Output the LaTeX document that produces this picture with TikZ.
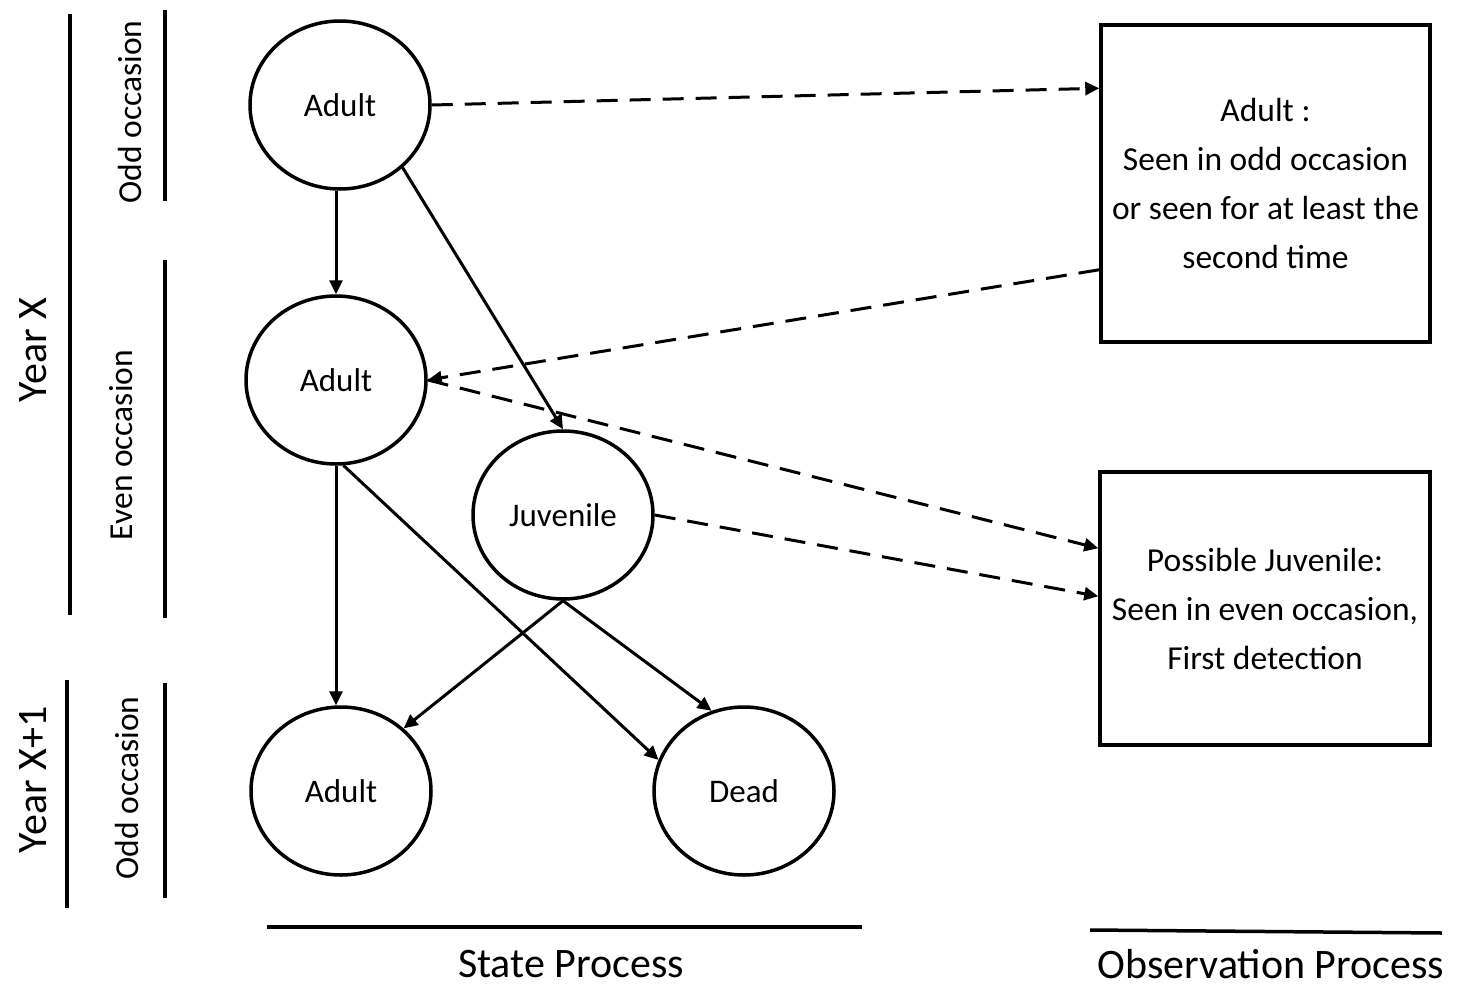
\documentclass[tikz,border=0pt]{standalone}
\usepackage{fontspec}
\setmainfont{Carlito}
\usetikzlibrary{shapes.geometric,arrows.meta}
\begin{document}
\begin{tikzpicture}[x=1pt,y=-1pt,
 st/.style={ellipse,draw,line width=3.5pt,minimum width=180pt,minimum height=168pt,inner sep=0pt,font=\fontsize{33}{38}\selectfont},
 ob/.style={draw,line width=3.5pt,inner sep=0pt,align=center,font=\fontsize{33.5}{49}\selectfont},
 arr/.style={line width=3pt,-{Triangle[length=14pt,width=13pt]}},
 darr/.style={arr,dash pattern=on 21pt off 12pt},
 bar/.style={line width=3.5pt},
 lab/.style={font=\fontsize{33.5}{38}\selectfont,rotate=90,inner sep=0pt},
 big/.style={font=\fontsize{42}{48}\selectfont,inner sep=0pt},
 ]
\useasboundingbox (0,0) rectangle (1462,991);
\node[st] (A1) at (340,105) {Adult};
\node[st] (A2) at (336,380) {Adult};
\node[st] (J) at (563,515) {Juvenile};
\node[st] (A3) at (341,791) {Adult};
\node[st] (D) at (744,791) {Dead};
\node[ob, minimum width=329pt, minimum height=317pt] (B1) at (1265.5,183.5) {Adult :\\Seen in odd occasion\\or seen for at least the\\second time};
\node[ob, minimum width=330pt, minimum height=273pt] (B2) at (1265,608.5) {Possible Juvenile:\\Seen in even occasion,\\First detection};
% left bars and labels
\draw[bar] (70,14) -- (70,615);
\draw[bar] (67,680) -- (67,908);
\draw[bar] (165,10) -- (165,201);
\draw[bar] (165,260) -- (165,618);
\draw[bar] (165,683) -- (165,898);
\node[lab,big] (yx) at (33,350) {Year X};
\node[lab,big] (yx1) at (33,780) {Year X+1};
\node[lab] (odd1) at (130,112) {Odd occasion};
\node[lab] (even) at (121,445) {Even occasion};
\node[lab] (odd2) at (127,788) {Odd occasion};
% bottom
\draw[bar] (267,927) -- (862,927);
\draw[bar] (1090,930) -- (1442,933);
\node[big] (sp) at (571,964) {State Process};
\node[big] (op) at (1271,964) {Observation Process};
% state arrows
\draw[arr] (A2.north |- A1.south) -- (A2.north);
\draw[arr] (A1.-45) -- (J.north);
\draw[arr] (A2.south) -- (A2.south |- A3.north);
\draw[arr] (A2.-85) -- (D.160);
\draw[arr] (J.south) -- (A3.45);
\draw[arr] (J.south) -- (D.112);
% observation arrows
\draw[darr] (A1.east) -- ([yshift=-65pt]B1.north west);
\draw[darr] ([yshift=74pt]B1.south west) -- (A2.east);
\draw[darr] (A2.east) -- ([yshift=-78pt]B2.north west);
\draw[darr] (J.east) -- ([yshift=-126pt]B2.north west);
\end{tikzpicture}
\end{document}
